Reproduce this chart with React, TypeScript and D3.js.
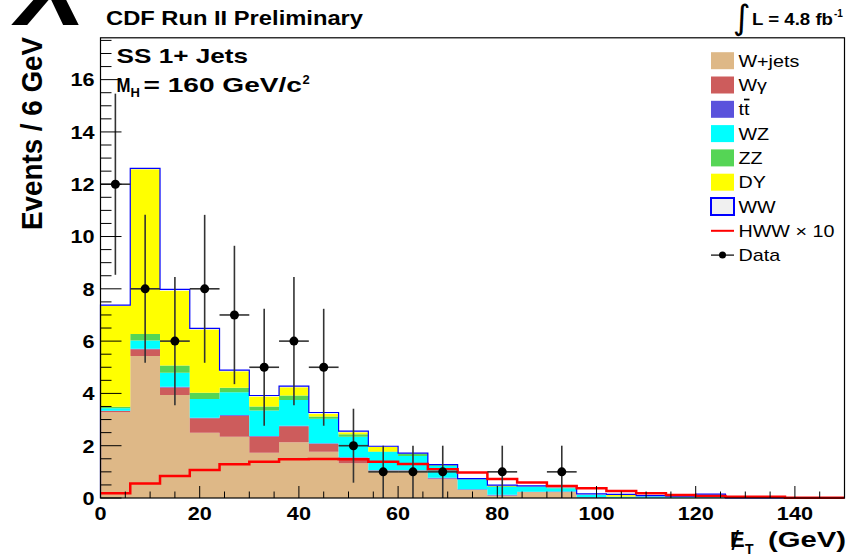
import React from 'react';
import * as d3 from 'd3';

// Missing-ET histogram, 6 GeV bins from 0 to 150 GeV
const BIN_WIDTH = 6;
const binStarts = d3.range(0, 150, BIN_WIDTH);

// Expected backgrounds per bin (events)
const wjets = [3.28, 5.43, 3.94, 2.50, 2.34, 1.73, 2.13, 1.77, 1.33, 1.01, 1.02, 0.72, 0.31, 0.09, 0.22, 0.22, 0, 0, 0, 0, 0, 0, 0, 0, 0];
const wgamma = [0.05, 0.26, 0.29, 0.55, 0.81, 0.62, 0.61, 0.30, 0.21, 0.04, 0.03, 0.03, 0.01, 0.01, 0.01, 0.01, 0.01, 0, 0, 0, 0, 0, 0, 0, 0];
const ttbar = [0.01, 0.02, 0.02, 0.02, 0.02, 0.02, 0.02, 0.02, 0.02, 0.01, 0.01, 0.02, 0.01, 0.02, 0.01, 0.02, 0.02, 0.01, 0.01, 0.01, 0.01, 0, 0, 0, 0];
const wz = [0.09, 0.31, 0.54, 0.72, 0.87, 0.98, 0.99, 0.94, 0.78, 0.70, 0.55, 0.46, 0.39, 0.30, 0.19, 0.12, 0.08, 0.04, 0.06, 0.04, 0.12, 0, 0, 0, 0];
const zz = [0.06, 0.25, 0.28, 0.24, 0.18, 0.15, 0.17, 0.09, 0.10, 0.02, 0.09, 0.04, 0.01, 0.03, 0.02, 0.02, 0.01, 0.01, 0, 0, 0, 0, 0, 0, 0];
const dy = [3.86, 6.30, 2.86, 2.41, 0.63, 0.38, 0.32, 0.10, 0.07, 0.18, 0, 0, 0, 0.02, 0, 0.01, 0.01, 0.06, 0, 0, 0, 0, 0, 0, 0];
const ww = [0.03, 0.04, 0.05, 0.05, 0.04, 0.04, 0.04, 0.05, 0.05, 0.02, 0.02, 0.01, 0.01, 0.02, 0.01, 0.03, 0.03, 0.02, 0.02, 0.02, 0.02, 0, 0, 0, 0];

// Higgs signal (x10) and observed counts
const hww10 = [0.18, 0.55, 0.84, 1.07, 1.29, 1.39, 1.48, 1.49, 1.48, 1.39, 1.30, 1.10, 0.98, 0.73, 0.59, 0.46, 0.37, 0.27, 0.18, 0.11, 0.08, 0.05, 0.05, 0.01, 0.01];
const observed = [12, 8, 6, 8, 7, 5, 6, 5, 2, 1, 1, 1, 0, 1, 0, 1, 0, 0, 0, 0, 0, 0, 0, 0, 0];

const xMajorTicks = [0, 20, 40, 60, 80, 100, 120, 140];
const yMajorTicks = [0, 2, 4, 6, 8, 10, 12, 14, 16];

const processKeys = ['wjets', 'wgamma', 'ttbar', 'wz', 'zz', 'dy', 'ww'];
const processColors: Record<string, string> = {
  wjets: '#deb887',
  wgamma: '#cd5c5c',
  ttbar: '#5a52dc',
  wz: '#00ffff',
  zz: '#55d555',
  dy: '#ffff00',
  ww: '#f0f0f0',
};
const legendLabels = ['W+jets', 'Wγ', 'tt', 'WZ', 'ZZ', 'DY', 'WW', 'HWW × 10', 'Data'];

const FONT = '"Liberation Sans", Arial, Helvetica, sans-serif';

function Txt(props: {
  x: number; y: number; size: number; bold?: boolean; sx?: number;
  anchor?: string; len?: number; italic?: boolean; children: React.ReactNode;
}) {
  const { x, y, size, bold, sx = 1, anchor = 'start', len, italic, children } = props;
  return (
    <text
      transform={`translate(${x},${y}) scale(${sx},1)`}
      fontFamily={FONT}
      fontSize={size}
      fontWeight={bold ? 'bold' : 'normal'}
      fontStyle={italic ? 'italic' : 'normal'}
      textAnchor={anchor}
      textLength={len}
      lengthAdjust={len ? 'spacingAndGlyphs' : undefined}
      fill="#000"
    >
      {children}
    </text>
  );
}

export default function App() {
  const W = 848;
  const H = 556;
  const x = d3.scaleLinear().domain([0, 150]).range([100.5, 844.5]);
  const y = d3.scaleLinear().domain([0, 17.6]).range([498, 37.8]);

  const rows = binStarts.map((lo, i) => ({
    lo,
    wjets: wjets[i], wgamma: wgamma[i], ttbar: ttbar[i], wz: wz[i],
    zz: zz[i], dy: dy[i], ww: ww[i],
  }));
  const stacked = d3.stack<any>().keys(processKeys)(rows);

  const area = d3
    .area<{ x: number; y0: number; y1: number }>()
    .curve(d3.curveStepAfter)
    .x((d) => x(d.x))
    .y0((d) => y(d.y0))
    .y1((d) => y(d.y1));

  const stepLine = d3
    .line<{ x: number; v: number }>()
    .curve(d3.curveStepAfter)
    .x((d) => x(d.x))
    .y((d) => y(d.v));

  const layerPaths = stacked.map((s) => {
    const pts = s.map((d, i) => ({ x: binStarts[i], y0: d[0], y1: d[1] }));
    const last = pts[pts.length - 1];
    pts.push({ x: 150, y0: last.y0, y1: last.y1 });
    return { key: s.key, d: area(pts) as string };
  });

  const totals = stacked[stacked.length - 1].map((d) => d[1]);
  const totalPts = [{ x: 0, v: 0 }, ...totals.map((v, i) => ({ x: binStarts[i], v })), { x: 150, v: totals[totals.length - 1] }, { x: 150, v: 0 }];
  const hwwPts = [...hww10.map((v, i) => ({ x: binStarts[i], v })), { x: 150, v: hww10[hww10.length - 1] }];

  const xMinor = d3.range(0, 151, 5).filter((v) => v % 20 !== 0);
  const yMinor = d3.range(0, 17.6, 0.5).filter((v) => v % 2 !== 0);

  const legendX = 711;
  const legendY0 = 60.7;
  const legendStep = 24.3;

  return (
    <svg width={W} height={H} style={{ position: 'absolute', left: 0, top: 0, background: '#fff' }}>
      <rect x={0} y={0} width={W} height={H} fill="#fff" />

      {/* stacked backgrounds */}
      {layerPaths.map((p) => (
        <path key={p.key} d={p.d} fill={processColors[p.key]} stroke="none" />
      ))}
      {/* WW outline on top of the stack */}
      <path d={stepLine(totalPts) as string} fill="none" stroke="#0000ff" strokeWidth={1.2} />

      {/* HWW x10 */}
      <path d={stepLine(hwwPts) as string} fill="none" stroke="#ff0000" strokeWidth={2.5} />

      {/* observed data */}
      {observed.map((n, i) => {
        if (n <= 0) return null;
        const cx = binStarts[i] + BIN_WIDTH / 2;
        const err = Math.sqrt(n);
        return (
          <g key={i}>
            <line x1={x(cx)} x2={x(cx)} y1={y(Math.max(0, n - err))} y2={y(n + err)} stroke="#333" strokeWidth={1.6} />
            <line x1={x(binStarts[i])} x2={x(binStarts[i] + BIN_WIDTH)} y1={y(n)} y2={y(n)} stroke="#333" strokeWidth={1.6} />
            <circle cx={x(cx)} cy={y(n)} r={4.5} fill="#000" />
          </g>
        );
      })}

      {/* ticks */}
      {xMajorTicks.map((t) => (
        <line key={'xM' + t} x1={x(t)} x2={x(t)} y1={y(0)} y2={y(0) - 12} stroke="#000" strokeWidth={1} />
      ))}
      {xMinor.map((t) => (
        <line key={'xm' + t} x1={x(t)} x2={x(t)} y1={y(0)} y2={y(0) - 6.5} stroke="#000" strokeWidth={1} />
      ))}
      {yMajorTicks.map((t) => (
        <line key={'yM' + t} x1={x(0)} x2={x(0) + 21} y1={y(t)} y2={y(t)} stroke="#000" strokeWidth={1} />
      ))}
      {yMinor.map((t) => (
        <line key={'ym' + t} x1={x(0)} x2={x(0) + 11} y1={y(t)} y2={y(t)} stroke="#000" strokeWidth={1} />
      ))}

      {/* frame */}
      <rect x={x(0)} y={y(17.6)} width={x(150) - x(0)} height={y(0) - y(17.6)} fill="none" stroke="#000" strokeWidth={1.2} />

      {/* tick labels */}
      {xMajorTicks.map((t) => (
        <Txt key={'xl' + t} x={x(t)} y={520} size={19} bold sx={1.14} anchor="middle">{String(t)}</Txt>
      ))}
      {yMajorTicks.map((t) => (
        <Txt key={'yl' + t} x={94.5} y={y(t) + 6.8} size={19} bold sx={1.14} anchor="end">{String(t)}</Txt>
      ))}

      {/* axis titles */}
      <text
        transform={`translate(42,230) scale(1.1,1) rotate(-90)`}
        fontFamily={FONT} fontSize={27} fontWeight="bold" textLength={193} lengthAdjust="spacingAndGlyphs"
      >
        Events / 6 GeV
      </text>
      <Txt x={730} y={547} size={22} bold>E</Txt>
      <Txt x={731.5} y={550} size={27}>/</Txt>
      <Txt x={745} y={554} size={14} bold>T</Txt>
      <Txt x={768} y={547} size={22} bold len={78}>(GeV)</Txt>

      {/* header */}
      <Txt x={16} y={25} size={104} bold italic>X</Txt>
      <Txt x={106} y={25} size={21} bold len={257}>CDF Run II Preliminary</Txt>
      <text x={733} y={29} fontFamily='"DejaVu Sans", sans-serif' fontSize={34}>∫</text>
      <Txt x={752} y={25} size={16} bold len={81}>L = 4.8 fb</Txt>
      <Txt x={834} y={17} size={10} bold>-1</Txt>

      {/* channel labels */}
      <Txt x={116.5} y={63} size={21} bold len={131.5}>SS 1+ Jets</Txt>
      <Txt x={116.5} y={92} size={21} bold len={14}>M</Txt>
      <Txt x={130.5} y={97} size={13} bold>H</Txt>
      <Txt x={143.5} y={92} size={21} bold len={158.5}>= 160 GeV/c</Txt>
      <Txt x={302.5} y={84} size={13} bold>2</Txt>

      {/* legend */}
      {processKeys.map((k, i) => {
        const cy = legendY0 + i * legendStep;
        return (
          <rect
            key={'lb' + k}
            x={legendX} y={cy - 8.5} width={23} height={17}
            fill={processColors[k]}
            stroke={k === 'ww' ? '#0000ff' : 'none'}
            strokeWidth={k === 'ww' ? 2 : 0}
          />
        );
      })}
      <line x1={legendX} x2={legendX + 23} y1={legendY0 + 7 * legendStep} y2={legendY0 + 7 * legendStep} stroke="#ff0000" strokeWidth={2} />
      <line x1={legendX} x2={legendX + 23} y1={legendY0 + 8 * legendStep} y2={legendY0 + 8 * legendStep} stroke="#000" strokeWidth={1.2} />
      <circle cx={legendX + 11.5} cy={legendY0 + 8 * legendStep} r={3.5} fill="#000" />
      {legendLabels.map((lab, i) => {
        const by = legendY0 + i * legendStep + 6;
        if (lab === 'tt') {
          return (
            <text key={'ll' + i} transform={`translate(738.5,${by}) scale(1.16,1)`} fontFamily={FONT} fontSize={17}>
              t<tspan style={{ textDecoration: 'overline' }}>t</tspan>
            </text>
          );
        }
        return (
          <Txt key={'ll' + i} x={738.5} y={by} size={17} sx={1.16}>{lab}</Txt>
        );
      })}
    </svg>
  );
}
